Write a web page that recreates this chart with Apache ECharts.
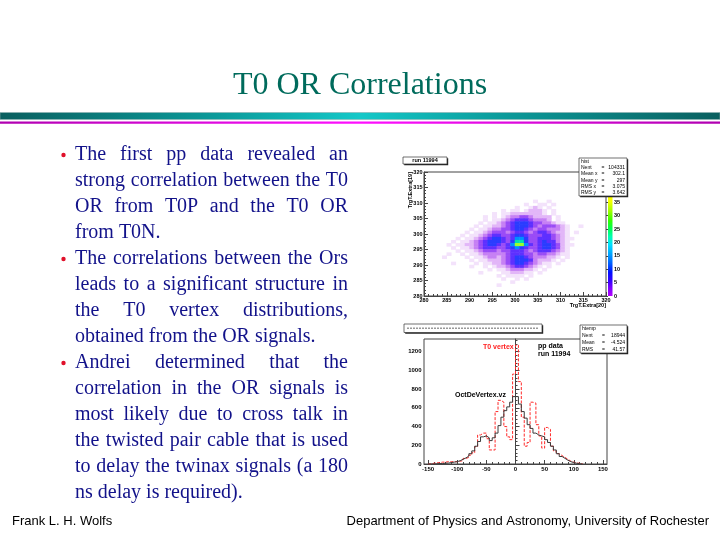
<!DOCTYPE html>
<html>
<head>
<meta charset="utf-8">
<script src="https://cdn.jsdelivr.net/npm/echarts@6.0.0/dist/echarts.min.js"></script>
<style>
html,body{margin:0;padding:0;background:#fff;}
#main{width:720px;height:540px;}
</style>
</head>
<body>
<div id="main"></div>
<script>
// ---------------- slide text ----------------
const slideTitle = 'T0 OR Correlations';
const bulletParagraphs = [
  ['The first pp data revealed an', 'strong correlation between the T0', 'OR from T0P and the T0 OR', 'from T0N.'],
  ['The correlations between the Ors', 'leads to a significant structure in', 'the T0 vertex distributions,', 'obtained from the OR signals.'],
  ['Andrei determined that the', 'correlation in the OR signals is', 'most likely due to cross talk in', 'the twisted pair cable that is used', 'to delay the twinax signals (a 180', 'ns delay is required).']
];
const footerLeft = 'Frank L. H. Wolfs';
const footerRight = 'Department of Physics and Astronomy, University of Rochester';

// ---------------- 2D histogram: TrgT.Extra[19] vs TrgT.Extra[20] ----------------
const heatTitle = 'run 11994';
const heatXTitle = 'TrgT.Extra[20]';
const heatYTitle = 'TrgT.Extra[19]';
const heatAxisMin = 280;
const heatAxisMax = 320;
const heatXStart = 283;   // x of first column of heatRows
const heatYTop = 310;     // y of first row of heatRows
// density level: '.' empty, '1'..'9' increasing
const heatRows = [
  '.....................1..1.......',
  '...................1..11.1......',
  '.................1..121.1.......',
  '..............1.11.12221.1......',
  '............1.1122222221.1......',
  '..........1.1.12334432222.1.....',
  '..........1.1123455543332.1.....',
  '.........1.11234566654433211....',
  '........1.1122345666543444321..1',
  '.......1.11233445665434433321...',
  '......1.112344434554345543221.1.',
  '.....1.1123455445665444554321...',
  '....1.112345665457764455543211..',
  '...1.112345666546886445655321...',
  '..1.11223456654579975456654211..',
  '...1.112345554456765445665421...',
  '....1.11234443445554345554321...',
  '..1..1.1123333345554434433211...',
  '.1....1.1123323456654333221.1...',
  '.......1.11222345666532221.1....',
  '...1....1.112234566543211.1.....',
  '.......1..1.12234554321.1.......',
  '...........1.112333221.1........',
  '.........1....1122211.1.........',
  '.............1.1111.1...........',
  '..............1..1.1............',
  '................1...............',
  '.............1..................'
];
const heatLevelCode = '123456789';
const heatLevelValue = [1, 2.5, 4, 6, 9, 13, 18, 24, 31];
const colorbarTicks = [0, 5, 10, 15, 20, 25, 30, 35];
const colorbarMax = 37;
const statsHeat = [['hist', ''], ['Nent', '104331'], ['Mean x', '302.1'], ['Mean y', '297'], ['RMS x', '3.075'], ['RMS y', '3.642']];

// ---------------- 1D histograms: vertex z ----------------
const histBinLow = [-150,-145,-140,-135,-130,-125,-120,-115,-110,-105,
  -100,-95,-90,-85,-80,-75,-70,-65,-60,-55,
  -50,-45,-40,-35,-30,-25,-20,-15,-10,-5,
  0,5,10,15,20,25,30,35,40,45,
  50,55,60,65,70,75,80,85,90,95,
  100,105,110];
const t0Vertex = [0,8,12,15,20,20,25,25,25,25,
  30,35,60,70,95,120,185,310,330,330,
  270,150,150,560,680,660,400,290,260,960,
  1270,880,500,190,230,660,650,420,300,170,
  390,370,190,140,110,90,70,50,30,20,
  10,8,3];
const octDeVertex = [0,0,3,5,5,8,10,15,20,25,
  35,50,65,85,110,140,190,240,290,300,
  280,250,280,330,410,500,570,610,660,720,
  720,640,560,490,420,380,330,310,300,290,
  260,230,190,150,110,80,60,40,25,15,
  8,3,0];
const histXMin = -157, histXMax = 157, histYMax = 1335;
const histXTicks = [-150, -100, -50, 0, 50, 100, 150];
const histXMinorTicks = [-150,-140,-130,-120,-110,-100,-90,-80,-70,-60,-50,-40,-30,-20,-10,0,10,20,30,40,50,60,70,80,90,100,110,120,130,140,150];
const histYTicks = [0, 200, 400, 600, 800, 1000, 1200];
const histYMinorTicks = [0,40,80,120,160,200,240,280,320,360,400,440,480,520,560,600,640,680,720,760,800,840,880,920,960,1000,1040,1080,1120,1160,1200,1240,1280,1320];
const histLabels = { t0: 'T0 vertex', oct: 'OctDeVertex.vz', pp: 'pp data', run: 'run 11994' };
const statsHist = [['htemp', ''], ['Nent', '18944'], ['Mean', '-4.524'], ['RMS', '41.57']];

// ---------------- build data ----------------
const xCats = [], yCats = [];
for (let v = heatAxisMin; v < heatAxisMax; v++) { xCats.push(String(v)); yCats.push(String(v)); }
const heatData = [];
heatRows.forEach((row, r) => {
  const y = heatYTop - r;
  for (let c = 0; c < row.length; c++) {
    const k = heatLevelCode.indexOf(row[c]);
    if (k < 0) continue;
    heatData.push([heatXStart + c - heatAxisMin, y - heatAxisMin, heatLevelValue[k]]);
  }
});
function histSteps(values) {
  const w = histBinLow[1] - histBinLow[0];
  const pts = histBinLow.map((x, i) => [x, values[i]]);
  pts.push([histBinLow[histBinLow.length - 1] + w, values[values.length - 1]]);
  return pts;
}

// ---------------- graphics (slide + boxes) ----------------
const SERIF = 'Liberation Serif';
const SANS = 'Liberation Sans';
const g = [];
function txt(x, y, text, o) {
  const st = Object.assign({ text: text, fill: '#000', fontSize: 12, fontFamily: SANS, align: 'left', verticalAlign: 'middle' }, o || {});
  st.textAlign = st.align; st.textVerticalAlign = st.verticalAlign;
  g.push({ type: 'text', x: x, y: y, silent: true, rotation: (o && o.rot) || 0, style: st });
}
function rect(x, y, w, h, style) { g.push({ type: 'rect', silent: true, shape: { x: x, y: y, width: w, height: h }, style: style }); }

// title and bars
txt(360, 86, slideTitle, { fontSize: 32, fontFamily: SERIF, fill: '#006b5c', align: 'center' });
rect(0, 112.5, 720, 7, { fill: new echarts.graphic.LinearGradient(0, 0, 1, 0, [
  { offset: 0, color: '#0a5f5f' }, { offset: 0.3, color: '#0b9a9a' }, { offset: 0.5, color: '#14c8c8' },
  { offset: 0.7, color: '#0b9a9a' }, { offset: 1, color: '#0a5f5f' }]), stroke: '#8fb0b0', lineWidth: 0.6 });
rect(0, 121.5, 720, 2.2, { fill: new echarts.graphic.LinearGradient(0, 0, 1, 0, [
  { offset: 0, color: '#b000b0' }, { offset: 0.5, color: '#ff10ff' }, { offset: 1, color: '#b000b0' }]) });

// bullets with justified lines
const bodySize = 20, textLeft = 75, textRight = 348, lineStep = 26, firstLineY = 155;
const mctx = document.createElement('canvas').getContext('2d');
mctx.font = bodySize + 'px ' + SERIF;
let lineIdx = 0;
bulletParagraphs.forEach(par => {
  const yb = firstLineY + lineStep * lineIdx;
  g.push({ type: 'circle', silent: true, shape: { cx: 63.5, cy: yb, r: 2.2 }, style: { fill: '#e0102a' } });
  par.forEach((line, li) => {
    const y = firstLineY + lineStep * lineIdx;
    const words = line.split(' ');
    const last = li === par.length - 1;
    if (last || words.length < 2) {
      txt(textLeft, y, line, { fontSize: bodySize, fontFamily: SERIF, fill: '#12128a' });
    } else {
      const widths = words.map(w => mctx.measureText(w).width);
      const total = widths.reduce((a, b) => a + b, 0);
      const gap = (textRight - textLeft - total) / (words.length - 1);
      let x = textLeft;
      words.forEach((w, i) => {
        txt(x, y, w, { fontSize: bodySize, fontFamily: SERIF, fill: '#12128a' });
        x += widths[i] + gap;
      });
    }
    lineIdx++;
  });
});

// footer
txt(12, 521, footerLeft, { fontSize: 13, fontFamily: SANS });
txt(709, 521, footerRight, { fontSize: 13, fontFamily: SANS, align: 'right' });

// colour bar of the 2D plot
rect(608, 197, 4.5, 99, { fill: new echarts.graphic.LinearGradient(0, 1, 0, 0, [
  { offset: 0, color: '#b400ff' }, { offset: 0.08, color: '#7a00ff' }, { offset: 0.16, color: '#3000ff' },
  { offset: 0.24, color: '#0010ff' }, { offset: 0.33, color: '#0060ff' }, { offset: 0.43, color: '#00a8ff' },
  { offset: 0.52, color: '#00e0ff' }, { offset: 0.6, color: '#00ffb0' }, { offset: 0.68, color: '#00ff50' },
  { offset: 0.76, color: '#30ff00' }, { offset: 0.86, color: '#a0ff00' }, { offset: 0.95, color: '#f0ff00' },
  { offset: 1, color: '#ffff00' }]) });

function statsBox(x, y, w, h, lines) {
  rect(x + 1.2, y + 1.2, w, h, { fill: '#222' });
  rect(x, y, w, h, { fill: '#fff', stroke: '#333', lineWidth: 0.7 });
  const lh = h / lines.length;
  lines.forEach((l, i) => {
    const cy = y + lh * (i + 0.5);
    txt(x + 2, cy, l[0], { fontSize: 5, fontFamily: SANS });
    if (l[1] !== '') {
      txt(x + w * 0.5, cy, '=', { fontSize: 5, fontFamily: SANS, align: 'center' });
      txt(x + w - 2, cy, l[1], { fontSize: 5, fontFamily: SANS, align: 'right' });
    }
  });
}
statsBox(579, 158, 48, 38, statsHeat);
statsBox(580, 325, 47, 28, statsHist);

// title boxes
rect(404.2, 158.2, 44, 7, { fill: '#222' });
rect(403, 157, 44, 7, { fill: '#fff', stroke: '#333', lineWidth: 0.7 });
txt(425, 160.6, heatTitle, { fontSize: 5.5, fontWeight: 'bold', align: 'center' });
rect(405.2, 325.2, 138, 8.5, { fill: '#222' });
rect(404, 324, 138, 8.5, { fill: '#fff', stroke: '#333', lineWidth: 0.7 });
g.push({ type: 'line', silent: true, shape: { x1: 407, y1: 328.3, x2: 538, y2: 328.3 }, style: { stroke: '#999', lineWidth: 1.6, lineDash: [2, 1] } });

// axis titles of 2D plot
txt(606, 305.5, heatXTitle, { fontSize: 5.5, fontWeight: 'bold', align: 'right' });
txt(410, 172, heatYTitle, { fontSize: 5.5, fontWeight: 'bold', align: 'right', rot: Math.PI / 2 });

// labels in 1D plot
txt(483, 347, histLabels.t0, { fontSize: 7, fontWeight: 'bold', fill: '#ff2020' });
txt(538, 346, histLabels.pp, { fontSize: 7, fontWeight: 'bold' });
txt(538, 354, histLabels.run, { fontSize: 7, fontWeight: 'bold' });
txt(455, 395, histLabels.oct, { fontSize: 7, fontWeight: 'bold' });

// ---------------- chart ----------------
const axisLineStyle = { color: '#444', width: 1 };
const tickLabel = { fontSize: 5.5, fontWeight: 'bold', fontFamily: SANS, color: '#000', margin: 1.5 };
const histLabel = { fontSize: 6, fontWeight: 'bold', fontFamily: SANS, color: '#000', margin: 2.5, formatter: v => String(v) };

const option = {
  animation: false,
  backgroundColor: '#fff',
  grid: [
    { left: 424, top: 172, width: 182, height: 124, show: false },
    { left: 424, top: 172, width: 182, height: 124, show: true, borderColor: '#444', borderWidth: 1, backgroundColor: 'transparent' },
    { left: 608, top: 197, width: 4.5, height: 99, show: false },
    { left: 424, top: 339, width: 183, height: 125, show: true, borderColor: '#444', borderWidth: 1, backgroundColor: 'transparent' }
  ],
  xAxis: [
    { gridIndex: 0, type: 'category', data: xCats, show: false },
    { gridIndex: 1, type: 'value', position: 'bottom', min: heatAxisMin, max: heatAxisMax, interval: 5,
      axisLine: { lineStyle: axisLineStyle }, axisTick: { inside: true, length: 4, lineStyle: axisLineStyle },
      minorTick: { show: true, splitNumber: 5, length: 2, lineStyle: axisLineStyle },
      splitLine: { show: false }, axisLabel: tickLabel },
    { gridIndex: 2, type: 'value', show: false },
    { gridIndex: 3, type: 'value', position: 'bottom', min: histXMin, max: histXMax,
      axisLine: { lineStyle: axisLineStyle },
      axisTick: { inside: true, length: 4, customValues: histXTicks, lineStyle: axisLineStyle },
      splitLine: { show: false }, axisLabel: Object.assign({ customValues: histXTicks }, histLabel) },
    { gridIndex: 3, type: 'value', position: 'bottom', min: histXMin, max: histXMax,
      axisLine: { show: false }, axisLabel: { show: false }, splitLine: { show: false },
      axisTick: { inside: true, length: 2, customValues: histXMinorTicks, lineStyle: axisLineStyle } }
  ],
  yAxis: [
    { gridIndex: 0, type: 'category', data: yCats, show: false },
    { gridIndex: 1, type: 'value', position: 'left', min: heatAxisMin, max: heatAxisMax, interval: 5,
      axisLine: { show: true, lineStyle: axisLineStyle }, axisTick: { show: true, inside: true, length: 4, lineStyle: axisLineStyle },
      minorTick: { show: true, splitNumber: 5, length: 2, lineStyle: axisLineStyle },
      splitLine: { show: false }, axisLabel: tickLabel },
    { gridIndex: 2, type: 'value', position: 'right', min: 0, max: colorbarMax,
      axisLine: { show: false }, splitLine: { show: false },
      axisTick: { show: true, inside: true, length: 2, customValues: colorbarTicks, lineStyle: axisLineStyle },
      axisLabel: Object.assign({ customValues: colorbarTicks }, tickLabel) },
    { gridIndex: 3, type: 'value', position: 'left', min: 0, max: histYMax,
      axisLine: { show: true, lineStyle: axisLineStyle },
      axisTick: { show: true, inside: true, length: 4, customValues: histYTicks, lineStyle: axisLineStyle },
      splitLine: { show: false }, axisLabel: Object.assign({ customValues: histYTicks }, histLabel) },
    { gridIndex: 3, type: 'value', position: 'left', min: 0, max: histYMax,
      axisLine: { show: false }, axisLabel: { show: false }, splitLine: { show: false },
      axisTick: { show: true, inside: true, length: 2, customValues: histYMinorTicks, lineStyle: axisLineStyle } }
  ],
  visualMap: [{
    type: 'piecewise', show: false, seriesIndex: 0, dimension: 2,
    pieces: [
      { gte: 0.5, lt: 1.5, color: '#f3e2fb' },
      { gte: 1.5, lt: 3, color: '#e2b6f8' },
      { gte: 3, lt: 5, color: '#c680f4' },
      { gte: 5, lt: 7.5, color: '#9a4cf6' },
      { gte: 7.5, lt: 11, color: '#5e30ff' },
      { gte: 11, lt: 15, color: '#2a3cff' },
      { gte: 15, lt: 21, color: '#0090ff' },
      { gte: 21, lt: 27, color: '#00e0b0' },
      { gte: 27, color: '#9cff28' }
    ]
  }],
  series: [
    { type: 'heatmap', xAxisIndex: 0, yAxisIndex: 0, data: heatData, silent: true, progressive: 0,
      itemStyle: { borderWidth: 0 } },
    { type: 'line', name: 'T0 vertex', xAxisIndex: 3, yAxisIndex: 3, data: histSteps(t0Vertex), step: 'end',
      symbol: 'none', silent: true, lineStyle: { color: '#ff2a2a', width: 1, type: [3, 1.5] } },
    { type: 'line', name: 'OctDeVertex.vz', xAxisIndex: 3, yAxisIndex: 3, data: histSteps(octDeVertex), step: 'end',
      symbol: 'none', silent: true, lineStyle: { color: '#3a3a3a', width: 1 } }
  ],
  graphic: { elements: g }
};

const chart = echarts.init(document.getElementById('main'), null, { renderer: 'canvas', width: 720, height: 540 });
chart.setOption(option);
</script>
</body>
</html>
